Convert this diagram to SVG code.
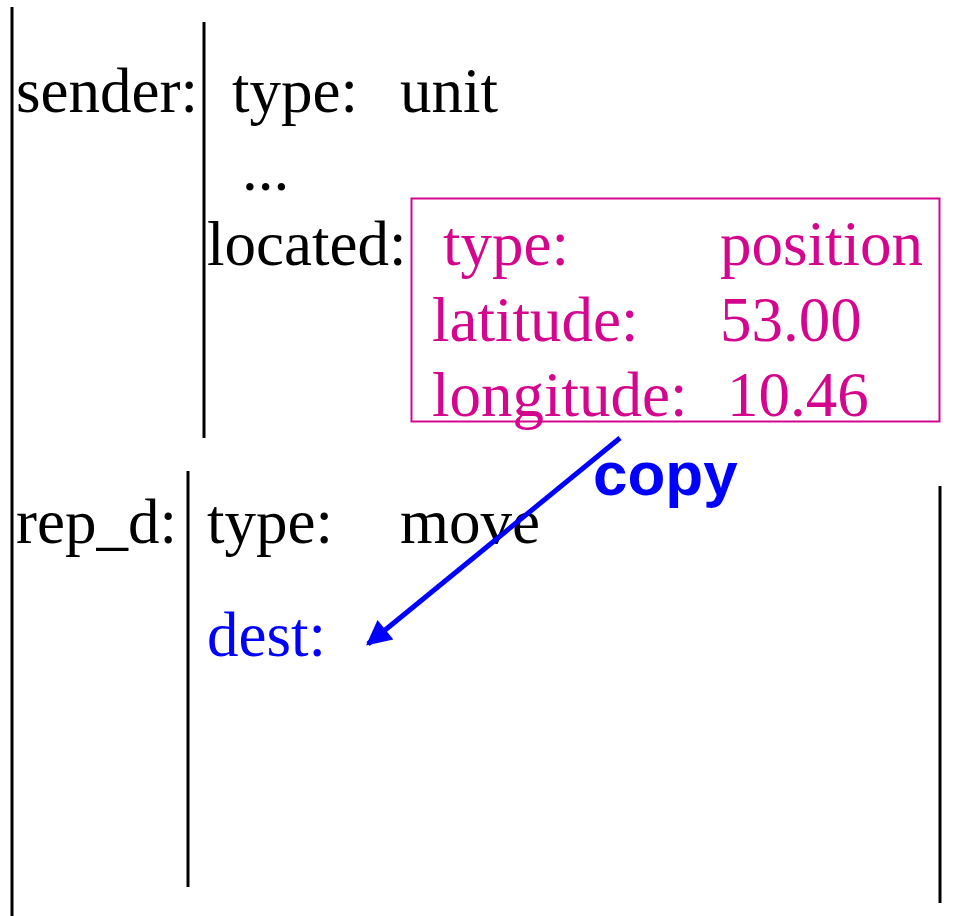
<svg xmlns="http://www.w3.org/2000/svg" width="953" height="916" viewBox="0 0 953 916">
  <style>
    .t { font-family: "Liberation Serif", "Times New Roman", serif; font-size: 63px; fill: #000; }
    .mg { fill: #d4068e; }
    .bl { fill: #0000ff; }
    .bar { stroke: #000; stroke-width: 3; fill: none; }
  </style>
  <defs>
    <marker id="head" viewBox="0 0 10 10" refX="9" refY="5" markerWidth="6" markerHeight="5" orient="auto" markerUnits="strokeWidth">
      <path d="M0,0 L10,5 L0,10 Z" fill="#0000ff"/>
    </marker>
  </defs>
  <rect width="953" height="916" fill="#fff"/>

  <!-- outer record bar -->
  <line class="bar" x1="12" y1="7" x2="12" y2="916"/>

  <g id="sender">
    <text class="t" x="16" y="112">sender:</text>
    <line class="bar" x1="204" y1="22" x2="204" y2="438"/>
    <text class="t" x="232" y="112">type:</text>
    <text class="t" x="400" y="112">unit</text>
    <text class="t" x="242" y="190">...</text>
    <text class="t" x="207" y="265">located:</text>
  </g>

  <g id="position">
    <rect x="411.5" y="198.5" width="528" height="223" fill="none" stroke="#d4068e" stroke-width="2"/>
    <text class="t mg" x="443" y="265">type:</text>
    <text class="t mg" x="720" y="265">position</text>
    <text class="t mg" x="432" y="341">latitude:</text>
    <text class="t mg" x="720" y="341">53.00</text>
    <text class="t mg" x="432" y="416">longitude:</text>
    <text class="t mg" x="727" y="416">10.46</text>
  </g>

  <g id="rep_d">
    <text class="t" x="16" y="543">rep_d:</text>
    <line class="bar" x1="188" y1="471" x2="188" y2="887"/>
    <line class="bar" x1="940" y1="486" x2="940" y2="903"/>
    <text class="t" x="207" y="543">type:</text>
    <text class="t" x="400" y="543">move</text>
    <text class="t bl" x="207" y="656">dest:</text>
  </g>

  <g id="connectors">
    <line x1="620" y1="438" x2="368" y2="644" stroke="#0000ff" stroke-width="5" marker-end="url(#head)"/>
    <text x="593" y="495" font-family="Liberation Sans, Arial, sans-serif" font-weight="bold" font-size="62" fill="#0000ff">copy</text>
  </g>
</svg>
